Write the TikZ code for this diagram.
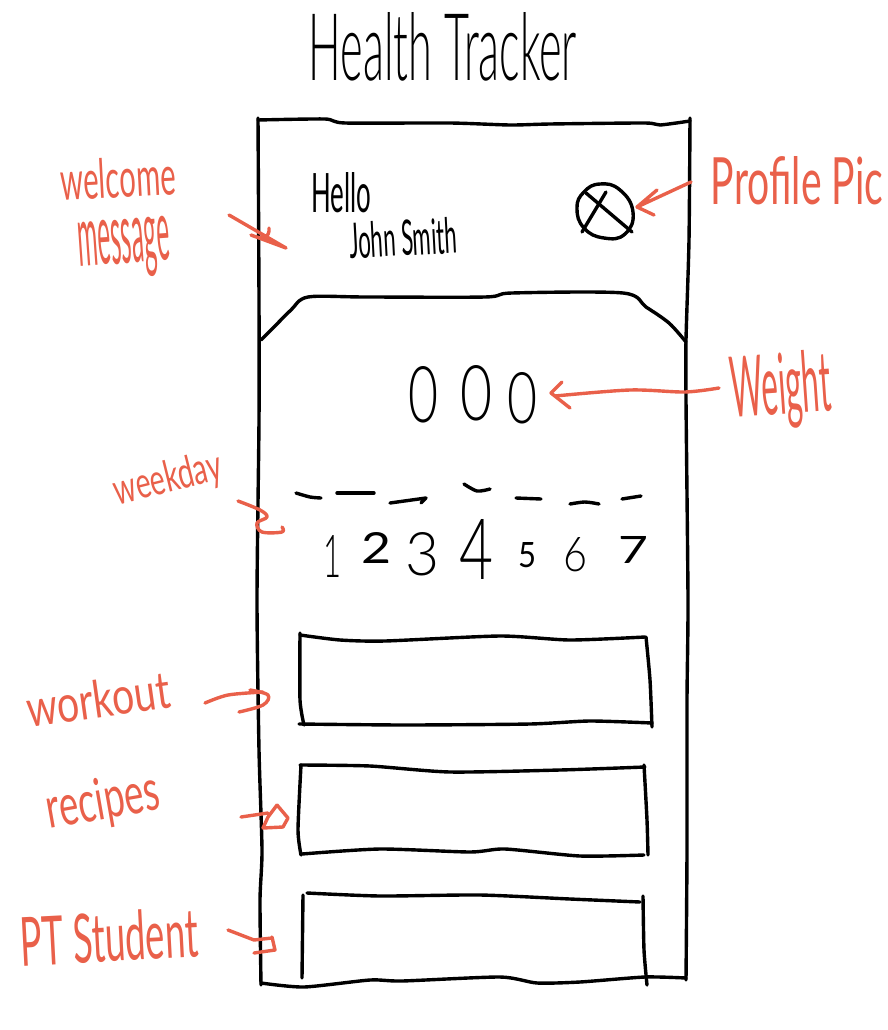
\documentclass[tikz,border=0pt]{standalone}
\usepackage{fontspec}
\usepackage{graphicx}
\setmainfont{Lato}[UprightFont={* Light}]
\newfontfamily\regfont{Lato}
\definecolor{sketchred}{HTML}{E9604A}
\tikzset{
  ink/.style={draw=black,line width=3.4pt,line cap=round,line join=round},
  redink/.style={draw=sketchred,line width=3.4pt,line cap=round,line join=round},
  hand/.style={inner sep=0pt,outer sep=0pt,text=black},
  redhand/.style={inner sep=0pt,outer sep=0pt,text=sketchred}
}
\newcommand{\hw}[3]{\resizebox{#1pt}{#2pt}{#3}}
\newcommand{\hr}[3]{\resizebox{#1pt}{#2pt}{\regfont #3}}
\begin{document}
\begin{tikzpicture}[x=1pt,y=-1pt]
\useasboundingbox (0,0) rectangle (888,1030);
% title
\node[hand] (title) at (443,47) {\hw{268}{68}{Health Tracker}};
% phone frame
\draw[ink] plot[smooth,tension=0.4] coordinates {(258,120) (325,119) (345,123) (450,123) (510,125) (550,124) (645,123) (660,125) (690,121)};
\draw[ink] plot[smooth,tension=0.4] coordinates {(258,118) (259,300) (259,420) (257,600) (259,750) (262,850) (260,900) (261,985)};
\draw[ink] plot[smooth,tension=0.4] coordinates {(690,118) (689,240) (686,340) (686,400) (688,600) (687,700) (687,850) (686,980)};
\draw[ink] plot[smooth,tension=0.4] coordinates {(261,983) (304,987) (370,980) (402,981) (500,977) (537,983) (580,982) (645,977) (686,978)};
\draw[ink] plot[smooth,tension=0.5] coordinates {(261,340) (274,327) (291,310) (308,297) (366,297) (485,297) (512,293) (623,293) (646,307) (669,323) (686,342)};
% greeting
\node[hand] (hello) at (341,193) {\hr{60}{40}{Hello}};
\node[hand,rotate=3] (john) at (403,238) {\hr{108}{36}{John Smith}};
% profile picture
\draw[ink] plot[smooth cycle,tension=0.8] coordinates {(600,184) (620,190) (633,212) (625,234) (604,238) (584,228) (577,208) (584,192)};
\draw[ink] (582,232) -- (606,192);
\draw[ink] (586,193) -- (632,232);
% weight digits
\node[hand] (w1) at (423,395) {\hw{30}{56}{0}};
\node[hand] (w2) at (477,393) {\hw{32}{55}{0}};
\node[hand] (w3) at (522,398) {\hw{30}{51}{0}};
% weekday dashes
\draw[ink] plot[smooth] coordinates {(296,493) (310,497) (321,498)};
\draw[ink] (337,493) -- (374,493);
\draw[ink] (390,503) -- (426,498) -- (421,503);
\draw[ink] plot[smooth] coordinates {(464,484) (477,491) (490,489)};
\draw[ink] (516,498) -- (541,499);
\draw[ink] plot[smooth] coordinates {(570,504) (585,502) (599,504)};
\draw[ink] (622,499) -- (641,496);
% weekday numbers
\node[hand] (d1) at (332,556) {\hw{18}{42}{1}};
\node[hand] (d2) at (376,548) {\hr{30}{31}{2}};
\node[hand] (d3) at (423,554) {\hw{34}{43}{3}};
\node[hand] (d4) at (477,549) {\hw{34}{60}{4}};
\node[hand] (d5) at (527,555) {\hr{18}{25}{5}};
\node[hand] (d6) at (575,555) {\hw{24}{34}{6}};
\node[hand] (d7) at (633,550) {\hr{30}{27}{7}};
% cards
\draw[ink] plot[smooth,tension=0.4] coordinates {(300,635) (340,640) (385,641) (500,636) (570,640) (645,637)};
\draw[ink] plot[smooth,tension=0.4] coordinates {(646,637) (650,680) (652,727)};
\draw[ink] plot[smooth,tension=0.4] coordinates {(299,724) (405,725) (530,724) (590,721) (652,723)};
\draw[ink] plot[smooth,tension=0.4] coordinates {(300,633) (300,700) (304,725)};
\draw[ink] plot[smooth,tension=0.4] coordinates {(300,765) (370,766) (450,772) (560,770) (645,767)};
\draw[ink] plot[smooth,tension=0.4] coordinates {(644,765) (647,820) (648,855)};
\draw[ink] plot[smooth,tension=0.4] coordinates {(302,854) (380,849) (470,852) (505,849) (580,856) (644,855)};
\draw[ink] plot[smooth,tension=0.4] coordinates {(301,765) (298,830) (301,855)};
\draw[ink] plot[smooth,tension=0.4] coordinates {(307,893) (380,896) (480,895) (570,899) (640,902)};
\draw[ink] plot[smooth,tension=0.4] coordinates {(643,896) (644,950) (647,985)};
\draw[ink] plot[smooth,tension=0.4] coordinates {(303,895) (302,978)};
% red labels
\node[redhand,rotate=3] (welcome) at (118,178) {\hr{115}{40}{welcome}};
\node[redhand,rotate=4] (message) at (124,249) {\hr{92}{44}{message}};
\node[redhand] (profile) at (797,181) {\hr{172}{48}{Profile Pic}};
\node[redhand,rotate=4] (weight) at (781,391) {\hr{100}{62}{Weight}};
\node[redhand,rotate=14] (weekday) at (168,480) {\hr{110}{32}{weekday}};
\node[redhand,rotate=8] (workout) at (98,699) {\hr{144}{38}{workout}};
\node[redhand,rotate=10] (recipes) at (103,803) {\hr{114}{42}{recipes}};
\node[redhand,rotate=3] (student) at (109,937) {\hr{178}{50}{PT Student}};
% red arrows
\draw[redink] (229,215) -- (286,248) -- (251,235) .. controls (262,240) and (270,238) .. (269,228);
\draw[redink] (691,182) -- (637,207) -- (657,190);
\draw[redink] (637,207) -- (654,215);
\draw[redink] plot[smooth,tension=0.5] coordinates {(719,388) (685,392) (630,390) (555,396)};
\draw[redink] (562,382) -- (551,393) -- (570,408);
\draw[redink] plot[smooth,tension=0.6] coordinates {(238,501) (260,510) (267,517) (257,523) (262,532) (282,532) (282,527)};
\draw[redink] plot[smooth,tension=0.5] coordinates {(205,703) (228,695) (263,692)};
\draw[redink] plot[smooth,tension=0.6] coordinates {(250,690) (268,695) (263,705) (239,712)};
\draw[redink] (241,817) -- (268,813);
\draw[redink] (277,805) -- (288,818) -- (283,827) -- (263,828) -- (268,817) -- (277,805);
\draw[redink] (228,930) -- (254,940) -- (272,938);
\draw[redink] (272,937) -- (275,950) -- (254,953);
\end{tikzpicture}
\end{document}
